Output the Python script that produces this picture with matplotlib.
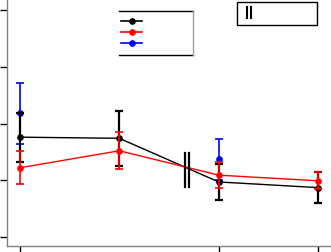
import matplotlib
matplotlib.use('Agg')
import matplotlib.pyplot as plt
from matplotlib.patches import Rectangle
from matplotlib.lines import Line2D

# data
x_pos = [0, 1, 2, 3]
black_y = [1.76, 1.74, 0.97, 0.87]
black_err = [0.43, 0.49, 0.31, 0.28]
red_y = [1.22, 1.52, 1.09, 0.99]
red_err = [0.29, 0.33, 0.23, 0.15]
blue_x = [0, 2]
blue_y = [2.18, 1.37]
blue_err = [0.54, 0.36]

W, H = 331, 252
fig = plt.figure(figsize=(W / 100, H / 100), dpi=100)
ax = fig.add_axes([7 / W, 6 / H, 1 - 7 / W, 246 / H])

ax.errorbar(x_pos, black_y, yerr=black_err, color='black', marker='o', ms=3.8,
            lw=1, elinewidth=1.6, capsize=3.2, capthick=1.6, zorder=3)
ax.errorbar(x_pos, red_y, yerr=red_err, color='red', marker='o', ms=3.8,
            lw=1, elinewidth=1.2, capsize=3.2, capthick=1.2, zorder=4)
ax.errorbar(blue_x, blue_y, yerr=blue_err, color='blue', marker='o', ms=3.8,
            ls='none', elinewidth=1.2, capsize=3.2, capthick=1.2, zorder=2)

ax.set_xlim(-0.13, 3.13)
ax.set_ylim(-0.16, 4.18)
ax.set_xticks([0, 2, 3])
ax.set_yticks([0, 1, 2, 3, 4])
ax.set_xticklabels([])
ax.set_yticklabels([])
ax.tick_params(direction='out', length=5, width=1, color='black')
for s in ['top', 'right']:
    ax.spines[s].set_visible(False)
for s in ['left', 'bottom']:
    ax.spines[s].set_color('#808080')
    ax.spines[s].set_linewidth(1)

# convert pixel position to figure fraction
def px(xp, yp):
    return xp / W, 1 - yp / H

# axis-break marker on the lines
for xb in (184.5, 189.5):
    x0, y0 = px(xb, 153)
    x1, y1 = px(xb, 187)
    fig.add_artist(Line2D([x0, x1], [y0, y1], color='black', lw=1.6, zorder=5))

# legend box (top/bottom black, right grey, no left edge)
lx, ly = px(119, 55)
fig.add_artist(Rectangle((lx, ly), 74 / W, 45 / H, transform=fig.transFigure,
                         facecolor='white', edgecolor='none', zorder=6))
for yy in (10.5, 55):
    a, b = px(119, yy)
    c2, _ = px(193, yy)
    fig.add_artist(Line2D([a, c2], [b, b], color='black', lw=1, zorder=7))
a, b = px(193, 10.5)
_, b2 = px(193, 55)
fig.add_artist(Line2D([a, a], [b, b2], color='#a0a0a0', lw=1, zorder=7))
for yy, c in zip((21, 32, 43), ('black', 'red', 'blue')):
    a, b = px(121, yy)
    c2, _ = px(142, yy)
    fig.add_artist(Line2D([a, c2], [b, b], color=c, lw=1.2, zorder=7))
    m, _ = px(131.5, yy)
    fig.add_artist(Line2D([m], [b], color=c, marker='o', ms=3.8, zorder=7))

# second box
bx, by = px(237, 25)
fig.add_artist(Rectangle((bx, by), 80 / W, 23 / H, transform=fig.transFigure,
                         facecolor='white', edgecolor='black', lw=1, zorder=6))
for xb in (246.5, 250.5):
    x0, y0 = px(xb, 7)
    x1, y1 = px(xb, 18)
    fig.add_artist(Line2D([x0, x1], [y0, y1], color='black', lw=1.5, zorder=7))

fig.savefig('out.png', dpi=100)
